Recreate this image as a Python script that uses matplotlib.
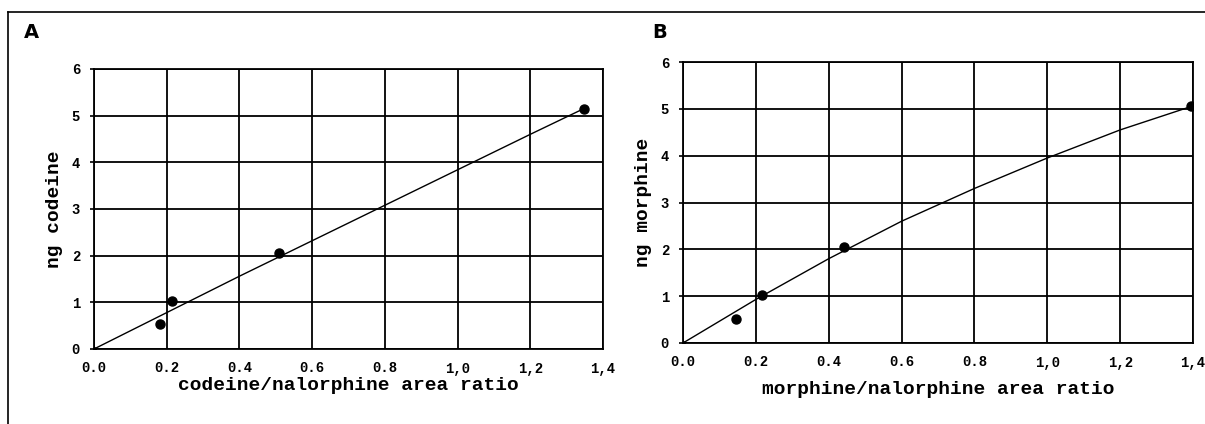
import matplotlib
matplotlib.use('Agg')
import matplotlib.pyplot as plt
from matplotlib.lines import Line2D

# panel A: codeine calibration
a_pts_x = [0.182, 0.215, 0.509, 1.347]
a_pts_y = [0.54, 1.02, 2.06, 5.15]
a_fit_x = [0.0, 0.4, 0.8, 1.2, 1.347]
a_fit_y = [0.0, 1.56, 3.08, 4.6, 5.15]

# panel B: morphine calibration
b_pts_x = [0.145, 0.217, 0.442, 1.395]
b_pts_y = [0.51, 1.02, 2.05, 5.05]
b_fit_x = [0.0, 0.2, 0.4, 0.6, 0.8, 1.0, 1.2, 1.395]
b_fit_y = [0.0, 0.93, 1.8, 2.6, 3.3, 3.95, 4.55, 5.05]

x_ticks = [0.0, 0.2, 0.4, 0.6, 0.8, 1.0, 1.2, 1.4]
x_labels = ['0.0', '0.2', '0.4', '0.6', '0.8', '1,0', '1,2', '1,4']
y_ticks = [0, 1, 2, 3, 4, 5, 6]

mono = 'Liberation Mono'

fig = plt.figure(figsize=(12.05, 4.24), dpi=100)

# outer frame (top and left rules)
fig.add_artist(Line2D([8/1205, 1.0], [1 - 12/424, 1 - 12/424], color='black', lw=1.2))
fig.add_artist(Line2D([8/1205, 8/1205], [0.0, 1 - 12/424], color='black', lw=1.2))

def panel(rect, px, py, fx, fy, xlabel, ylabel, xpad):
    ax = fig.add_axes(rect)
    ax.plot(fx, fy, color='black', lw=1.0)
    ax.plot(px, py, 'o', color='black', ms=6.5)
    ax.plot([0], [0], 'o', color='black', ms=2.5)
    ax.set_xlim(0, 1.4)
    ax.set_ylim(0, 6)
    ax.set_xticks(x_ticks)
    ax.set_xticklabels(x_labels, fontfamily=mono, fontweight='bold', fontsize=10)
    ax.set_yticks(y_ticks)
    ax.set_yticklabels([str(t) for t in y_ticks], fontfamily=mono, fontweight='bold', fontsize=10)
    ax.tick_params(axis='x', length=0, pad=9)
    ax.tick_params(axis='y', length=3, width=1.2, pad=7)
    ax.grid(True, color='black', lw=1.3)
    for s in ax.spines.values():
        s.set_linewidth(1.3)
    ax.set_xlabel(xlabel, fontfamily=mono, fontweight='bold', fontsize=14, labelpad=xpad)
    ax.set_ylabel(ylabel, fontfamily=mono, fontweight='bold', fontsize=14, labelpad=6)
    ax.set_axisbelow(True)
    return ax

panel([94/1205, 1 - 349/424, 509/1205, 280/424], a_pts_x, a_pts_y, a_fit_x, a_fit_y,
      'codeine/nalorphine area ratio', 'ng codeine', 1)
panel([683/1205, 1 - 343/424, 510/1205, 281/424], b_pts_x, b_pts_y, b_fit_x, b_fit_y,
      'morphine/nalorphine area ratio', 'ng morphine', 8)

fig.text(24/1205, 1 - 32/424, 'A', family=['Liberation Sans Narrow', 'DejaVu Sans'],
         fontweight='bold', fontsize=14, va='center', ha='left')
fig.text(652/1205, 1 - 32/424, 'B', family=['Liberation Sans Narrow', 'DejaVu Sans'],
         fontweight='bold', fontsize=14, va='center', ha='left')

fig.savefig('out.png', dpi=100, facecolor='white')
